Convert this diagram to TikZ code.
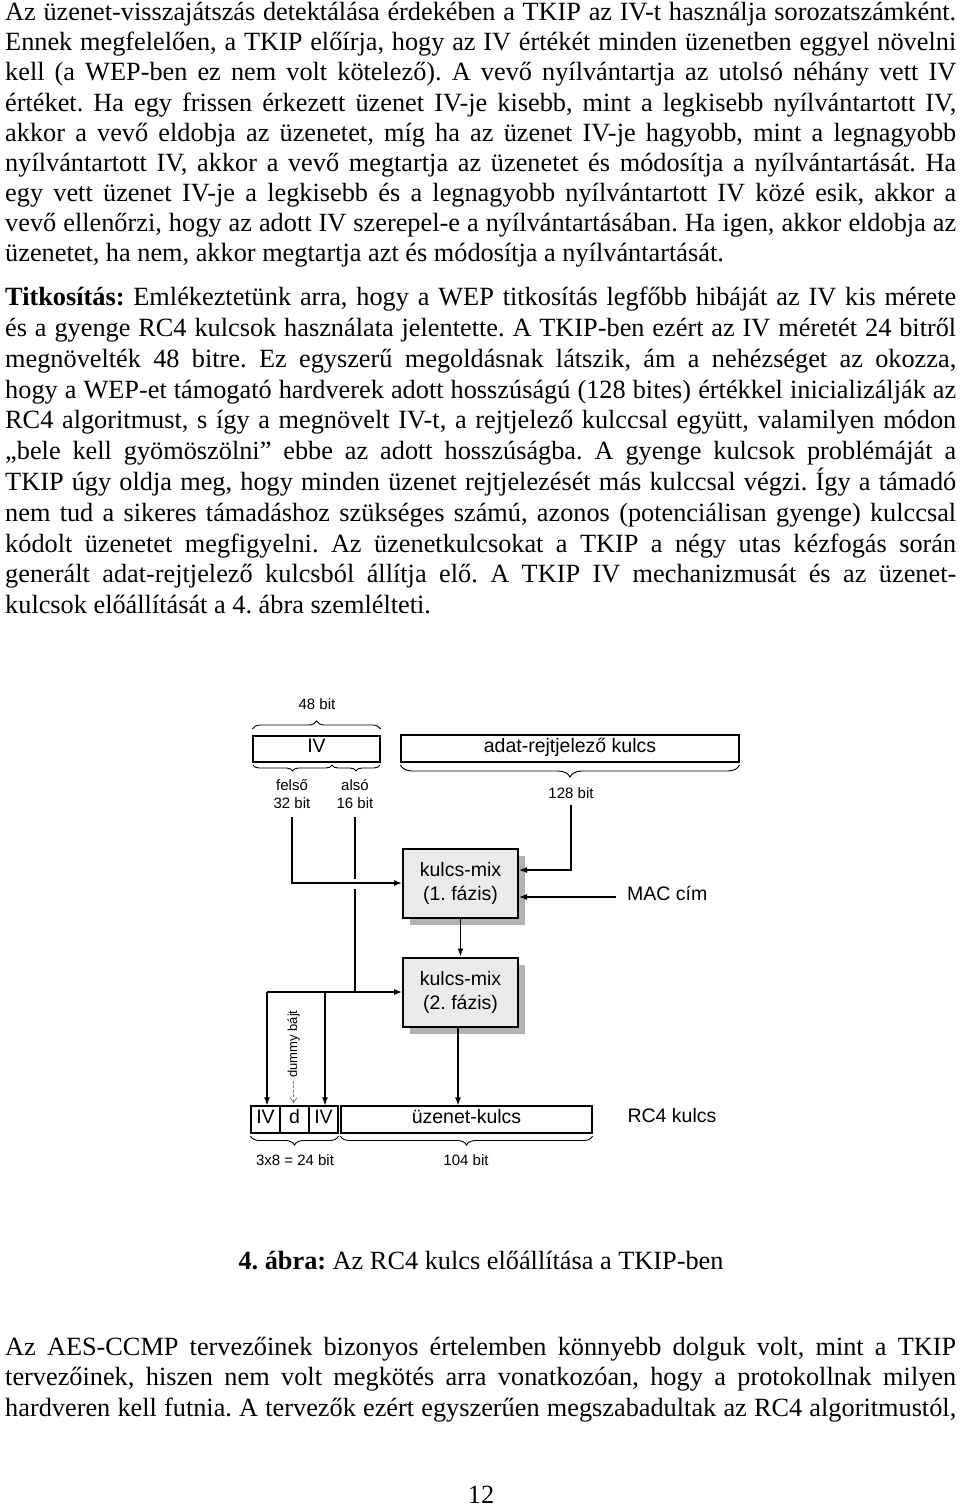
\documentclass[tikz,border=0pt]{standalone}
\usepackage{fontspec}
\setmainfont{Liberation Serif}
\newfontfamily\arialf{Liberation Sans}
\usetikzlibrary{arrows.meta,decorations.pathreplacing,shadows,calc}
\newcommand\jline[3]{\node[body] (#1) at (5,#2) {\makebox[951pt][s]{#3}};}
\newcommand\fline[3]{\node[body] (#1) at (5,#2) {#3};}
\frenchspacing
\begin{document}
\begin{tikzpicture}[x=1pt,y=-1pt,
  body/.style={inner sep=0pt, anchor=base west, font=\fontsize{26.3}{30}\selectfont},
  big/.style={inner sep=0pt, font=\arialf\fontsize{19.5}{24}\selectfont, text height=0.72em, text depth=0pt},
  small/.style={inner sep=0pt, font=\arialf\fontsize{15}{18}\selectfont, text height=0.72em, text depth=0pt},
  fieldbox/.style={draw, line width=1.3pt, inner sep=0pt, font=\arialf\fontsize{19.5}{24}\selectfont, text height=0.72em, text depth=0pt},
  mixbox/.style={draw, line width=2pt, fill=gray!16, inner sep=0pt, minimum width=115pt, minimum height=69pt, align=center,
     font=\arialf\fontsize{19.5}{24}\selectfont,
     drop shadow={shadow xshift=7pt, shadow yshift=-7pt, fill=gray!60, opacity=1}},
  conn/.style={line width=1.2pt},
  arr/.style={-{Latex[length=8pt,width=6pt]}},
  brc/.style={decorate, line width=0.9pt, decoration={brace, amplitude=#1}},
  brcd/.style={decorate, line width=0.9pt, decoration={brace, mirror, amplitude=#1}}]
\useasboundingbox (0,0) rectangle (960,1508);
\fill[white] (0,0) rectangle (960,1508);

% ---- paragraph 1
\jline{l1}{20.7}{Az üzenet-visszajátszás detektálása érdekében a TKIP az IV-t használja sorozatszámként.}
\jline{l2}{50.8}{Ennek megfelelően, a TKIP előírja, hogy az IV értékét minden üzenetben eggyel növelni}
\jline{l3}{80.9}{kell (a WEP-ben ez nem volt kötelező). A vevő nyílvántartja az utolsó néhány vett IV}
\jline{l4}{111.1}{értéket. Ha egy frissen érkezett üzenet IV-je kisebb, mint a legkisebb nyílvántartott IV,}
\jline{l5}{141.2}{akkor a vevő eldobja az üzenetet, míg ha az üzenet IV-je hagyobb, mint a legnagyobb}
\jline{l6}{171.3}{nyílvántartott IV, akkor a vevő megtartja az üzenetet és módosítja a nyílvántartását. Ha}
\jline{l7}{201.4}{egy vett üzenet IV-je a legkisebb és a legnagyobb nyílvántartott IV közé esik, akkor a}
\jline{l8}{231.5}{vevő ellenőrzi, hogy az adott IV szerepel-e a nyílvántartásában. Ha igen, akkor eldobja az}
\fline{l9}{261.7}{üzenetet, ha nem, akkor megtartja azt és módosítja a nyílvántartását.}

% ---- paragraph 2
\jline{m1}{305.7}{\textbf{Titkosítás:} Emlékeztetünk arra, hogy a WEP titkosítás legfőbb hibáját az IV kis mérete}
\jline{m2}{336.5}{és a gyenge RC4 kulcsok használata jelentette. A TKIP-ben ezért az IV méretét 24 bitről}
\jline{m3}{367.3}{megnövelték 48 bitre. Ez egyszerű megoldásnak látszik, ám a nehézséget az okozza,}
\jline{m4}{398.1}{hogy a WEP-et támogató hardverek adott hosszúságú (128 bites) értékkel inicializálják az}
\jline{m5}{428.9}{RC4 algoritmust, s így a megnövelt IV-t, a rejtjelező kulccsal együtt, valamilyen módon}
\jline{m6}{459.7}{„bele kell gyömöszölni” ebbe az adott hosszúságba. A gyenge kulcsok problémáját a}
\jline{m7}{490.5}{TKIP úgy oldja meg, hogy minden üzenet rejtjelezését más kulccsal végzi. Így a támadó}
\jline{m8}{521.3}{nem tud a sikeres támadáshoz szükséges számú, azonos (potenciálisan gyenge) kulccsal}
\jline{m9}{552.1}{kódolt üzenetet megfigyelni. Az üzenetkulcsokat a TKIP a négy utas kézfogás során}
\jline{m10}{582.9}{generált adat-rejtjelező kulcsból állítja elő. A TKIP IV mechanizmusát és az üzenet-}
\fline{m11}{613.7}{kulcsok előállítását a 4. ábra szemlélteti.}

% ---- diagram
\node[small] (b48) at (317,706) {48 bit};
\node[fieldbox, minimum width=127pt, minimum height=26pt] (ivtop) at (316.5,749) {IV};
\node[fieldbox, minimum width=338pt, minimum height=27pt] (dk) at (570,748.5) {adat-rejtjelező kulcs};
\draw[brc=8] (ivtop.north west |- 0,729) -- (ivtop.north east |- 0,729);
\draw[brcd=6] (253,765) -- (332,765);
\draw[brcd=6] (332,765) -- (380,765);
\draw[brcd=12] (dk.south west |- 0,765) -- (dk.south east |- 0,765);
\node[small] (fel) at (292,787) {felső};
\node[small] (b32) at (292,805) {32 bit};
\node[small] (als) at (355,787) {alsó};
\node[small] (b16) at (355,805) {16 bit};
\node[small] (b128) at (571,795) {128 bit};

\node[mixbox] (mix1) at (460.5,883) {kulcs-mix\\(1. fázis)};
\node[mixbox] (mix2) at (460.5,992) {kulcs-mix\\(2. fázis)};
\node[big, anchor=west, text depth=0pt] (mac) at (627,897) {MAC cím};

\node[fieldbox, minimum width=29pt, minimum height=27pt] (iv1) at (265.5,1119.5) {IV};
\node[fieldbox, minimum width=29pt, minimum height=27pt] (dd) at (294.5,1119.5) {d};
\node[fieldbox, minimum width=29pt, minimum height=27pt] (iv2) at (323.5,1119.5) {IV};
\node[fieldbox, minimum width=251pt, minimum height=27pt] (uk) at (466.5,1119.5) {üzenet-kulcs};
\node[big] (rc4) at (672,1119) {RC4 kulcs};
\draw[brcd=9] (iv1.south west |- 0,1136) -- (iv2.south east |- 0,1136);
\draw[brcd=9] (uk.south west |- 0,1136) -- (uk.south east |- 0,1136);
\node[small] (b24) at (295,1162) {3x8 = 24 bit};
\node[small] (b104) at (466,1162) {104 bit};

\node[inner sep=0pt, font=\arialf\fontsize{13}{15}\selectfont, text height=0.72em, text depth=0pt, rotate=90] (dummy) at (293.5,1044) {dummy bájt};

% connectors
\coordinate (c32) at (292,817);
\coordinate (c16) at (355,817);
\coordinate (gA) at (355,879);
\coordinate (gB) at (355,889);
\coordinate (j16) at (355,992);
\coordinate (jl) at (267,992);
\coordinate (jr) at (325,992);
\coordinate (c128) at (571,805);
\coordinate (macs) at (616,897);
\coordinate (m2b) at (458,1027);

\draw[conn,arr] (c32) |- (mix1.west);
\draw[conn] (c16) -- (gA);
\draw[conn] (gB) -- (j16);
\draw[conn,arr] (jl) -- (mix2.west);
\draw[conn,arr] (jl) -- (jl |- iv1.north);
\draw[conn,arr] (jr) -- (jr |- iv2.north);
\draw[conn,arr] (c128) |- ($(mix1.east)+(0,-13)$);
\draw[conn,arr] (macs) -- (mix1.east |- macs);
\draw[conn,arr] (mix1.south) -- (mix2.north);
\draw[conn,arr] (m2b) -- (m2b |- uk.north);
\draw[gray, line width=0.8pt, dash pattern=on 3pt off 1.5pt, -{Straight Barb[length=5pt,width=7pt]}] ([yshift=-3pt]dummy.west) -- ([yshift=2pt]dummy.west |- dd.north);

% caption
\node[inner sep=0pt, anchor=base, font=\fontsize{26.3}{30}\selectfont] (cap) at (481,1269) {\textbf{4. ábra:} Az RC4 kulcs előállítása a TKIP-ben};

% ---- paragraph 3
\jline{n1}{1355}{Az AES-CCMP tervezőinek bizonyos értelemben könnyebb dolguk volt, mint a TKIP}
\jline{n2}{1385.7}{tervezőinek, hiszen nem volt megkötés arra vonatkozóan, hogy a protokollnak milyen}
\jline{n3}{1416}{hardveren kell futnia. A tervezők ezért egyszerűen megszabadultak az RC4 algoritmustól,}

\node[inner sep=0pt, anchor=base, font=\fontsize{26.3}{30}\selectfont] (pg) at (481,1503) {12};
\end{tikzpicture}
\end{document}
